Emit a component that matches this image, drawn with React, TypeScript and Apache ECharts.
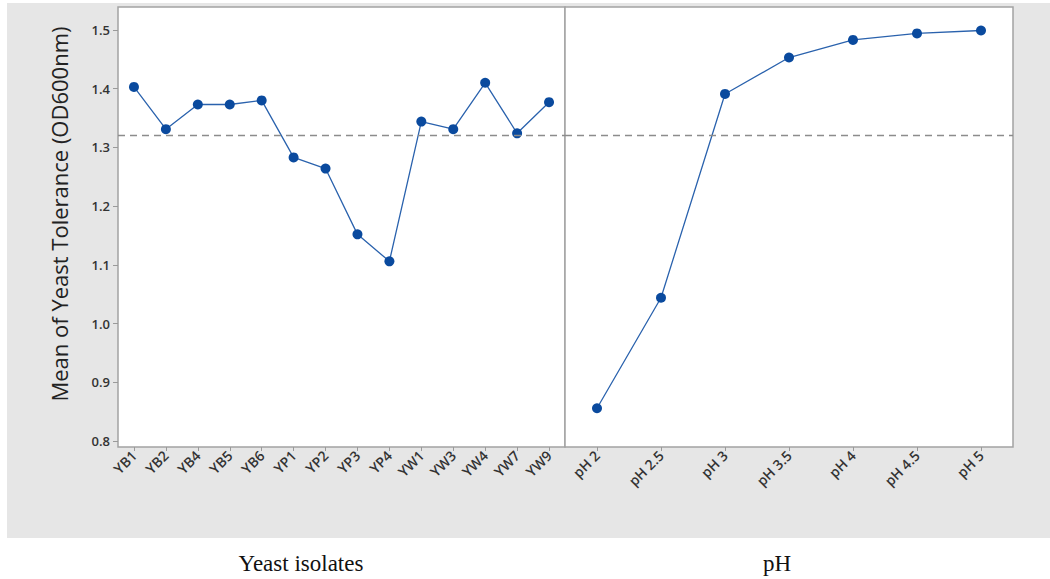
import React, { useEffect, useRef } from "react";
import * as echarts from "echarts";

const isolates = ["YB1", "YB2", "YB4", "YB5", "YB6", "YP1", "YP2", "YP3", "YP4", "YW1", "YW3", "YW4", "YW7", "YW9"];
const isolateMeans = [1.403, 1.331, 1.373, 1.373, 1.38, 1.283, 1.264, 1.152, 1.106, 1.344, 1.331, 1.41, 1.324, 1.377];
const phLevels = ["pH 2", "pH 2.5", "pH 3", "pH 3.5", "pH 4", "pH 4.5", "pH 5"];
const phMeans = [0.856, 1.044, 1.391, 1.453, 1.483, 1.494, 1.499];
const yTicks = [0.8, 0.9, 1.0, 1.1, 1.2, 1.3, 1.4, 1.5];
const grandMean = 1.317;
const yTitle = "Mean of Yeast Tolerance (OD600nm)";
const xTitles = ["Yeast isolates", "pH"];

const LINE = "#2a62ad";
const MARK = "#0a4a9e";
const FONT = "'Open Sans', 'Noto Sans', sans-serif";

export default function App() {
  const ref = useRef<HTMLDivElement>(null);
  useEffect(() => {
    if (!ref.current) return;
    const chart = echarts.init(ref.current, null, { renderer: "svg" });
    const gridCommon = {
      top: 7,
      height: 440,
      show: true,
      backgroundColor: "#ffffff",
      borderColor: "#a3a3a3",
      borderWidth: 1.5,
    };
    const xAxisCommon = {
      type: "category" as const,
      boundaryGap: true,
      axisLine: { show: false },
      axisTick: { show: true, alignWithLabel: true, length: 4, lineStyle: { color: "#9a9a9a" } },
      axisLabel: { rotate: 45, fontSize: 14, fontWeight: 600, color: "#333", fontFamily: FONT, margin: 6 },
      splitLine: { show: false },
    };
    const yAxisCommon = {
      type: "value" as const,
      min: 0.79,
      max: 1.539,
      splitLine: { show: false },
    };
    const markLine = {
      silent: true,
      symbol: "none",
      label: { show: false },
      lineStyle: { type: [7, 5] as any, color: "#8c8c8c", width: 1.3 },
      data: [{ yAxis: grandMean }],
    };
    const seriesCommon = {
      type: "line" as const,
      symbol: "circle",
      symbolSize: 10,
      lineStyle: { color: LINE, width: 1.3 },
      itemStyle: { color: MARK },
    };
    chart.setOption({
      animation: false,
      graphic: [
        { type: "rect", shape: { x: 7, y: 3, width: 1043, height: 535 }, style: { fill: "#e6e6e6" }, z: -10 },
        {
          type: "text",
          x: 59,
          y: 214,
          rotation: Math.PI / 2,
          style: { text: yTitle, font: `500 22px ${FONT}`, fill: "#222", textAlign: "center", textVerticalAlign: "middle" },
        },
        {
          type: "text",
          x: 301,
          y: 563,
          style: { text: xTitles[0], font: "23px 'Liberation Serif', 'Times New Roman', serif", fill: "#111", textAlign: "center", textVerticalAlign: "middle" },
        },
        {
          type: "text",
          x: 777,
          y: 563,
          style: { text: xTitles[1], font: "23px 'Liberation Serif', 'Times New Roman', serif", fill: "#111", textAlign: "center", textVerticalAlign: "middle" },
        },
      ],
      grid: [
        { ...gridCommon, left: 118, width: 447 },
        { ...gridCommon, left: 565, width: 448 },
      ],
      xAxis: [
        { ...xAxisCommon, gridIndex: 0, data: isolates },
        { ...xAxisCommon, gridIndex: 1, data: phLevels },
      ],
      yAxis: [
        {
          ...yAxisCommon,
          gridIndex: 0,
          axisLine: { show: false },
          axisTick: { show: true, length: 5, lineStyle: { color: "#9a9a9a" }, customValues: yTicks },
          axisLabel: {
            fontSize: 13,
            fontWeight: 600,
            color: "#333",
            fontFamily: FONT,
            margin: 8,
            customValues: yTicks,
            formatter: (v: number) => v.toFixed(1),
          },
        },
        {
          ...yAxisCommon,
          gridIndex: 1,
          axisLine: { show: false },
          axisTick: { show: false },
          axisLabel: { show: false },
        },
      ],
      series: [
        { ...seriesCommon, xAxisIndex: 0, yAxisIndex: 0, data: isolateMeans, markLine },
        { ...seriesCommon, xAxisIndex: 1, yAxisIndex: 1, data: phMeans, markLine },
      ],
    });
    return () => chart.dispose();
  }, []);
  return <div ref={ref} style={{ position: "fixed", left: 0, top: 0, width: 1050, height: 579, background: "#fff" }} />;
}
